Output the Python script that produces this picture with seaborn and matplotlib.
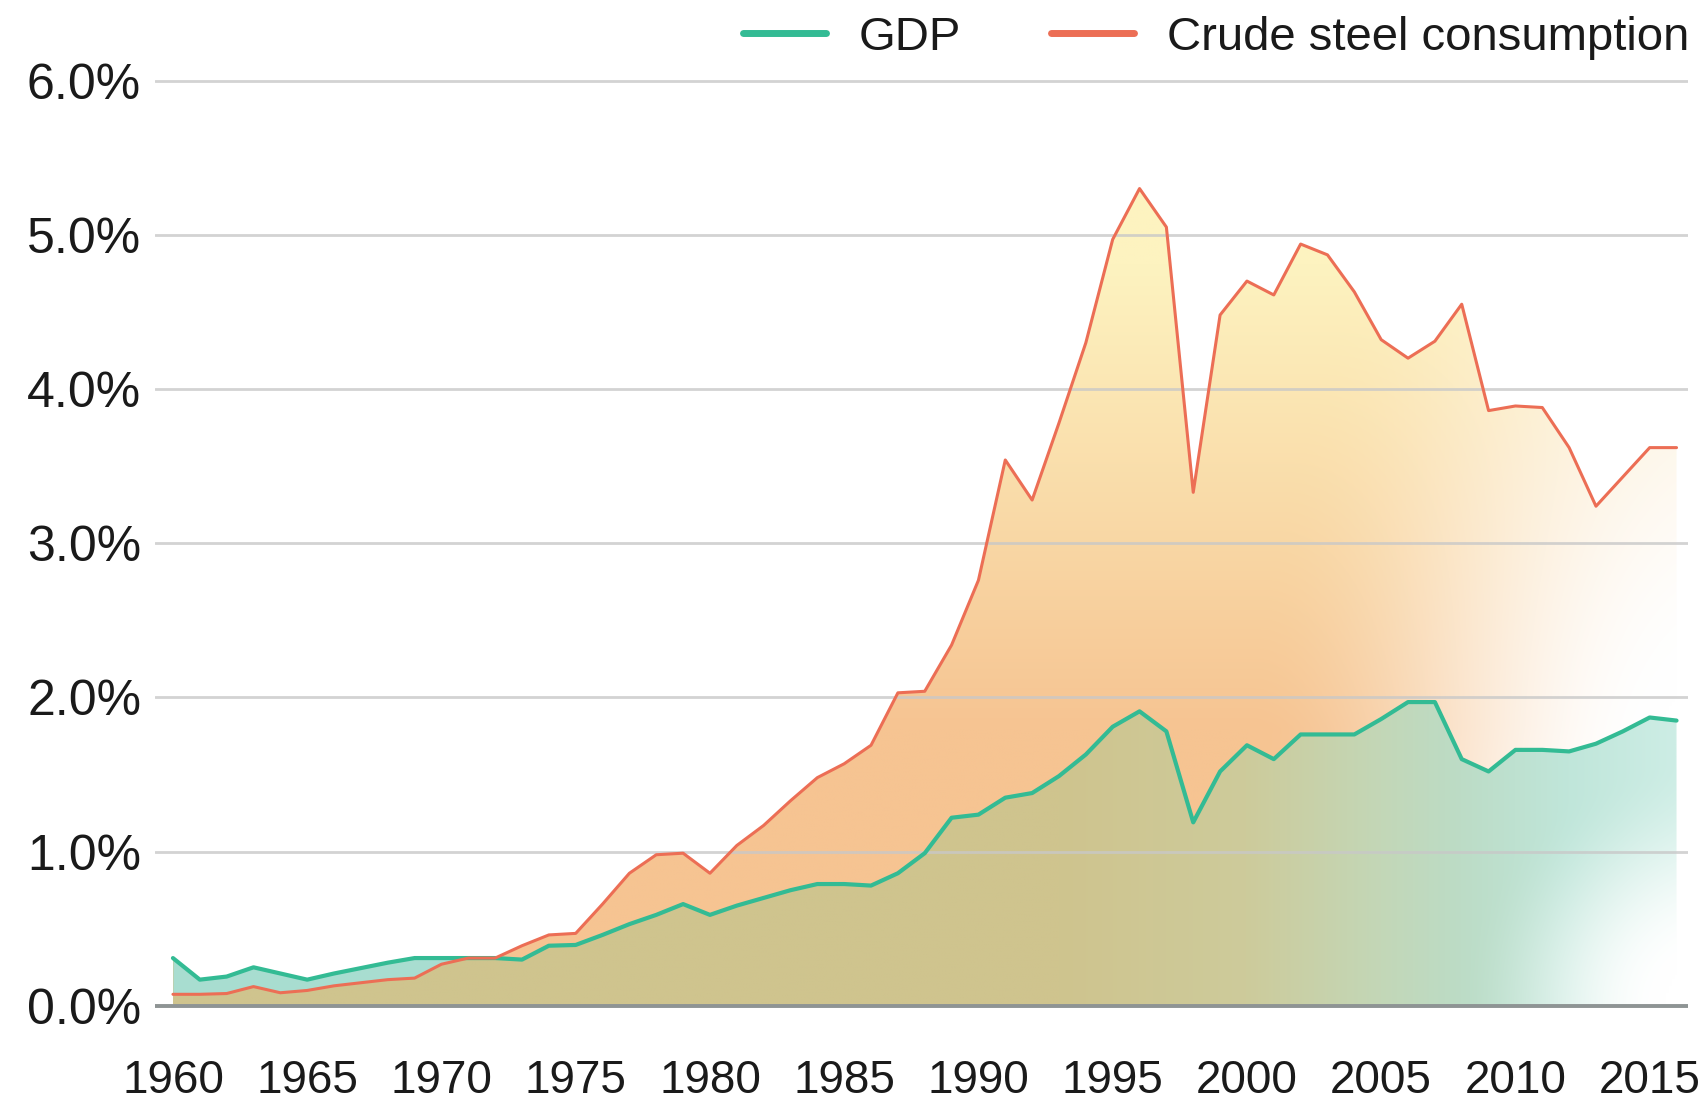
import matplotlib
matplotlib.use("Agg")
import matplotlib.pyplot as plt
from matplotlib.lines import Line2D
import seaborn as sns
import pandas as pd
import numpy as np

years = list(range(1960, 2017))

gdp = [0.31, 0.17, 0.19, 0.25, 0.21, 0.17, 0.21, 0.245, 0.28, 0.31,
       0.31, 0.31, 0.31, 0.30, 0.39, 0.395, 0.46, 0.53, 0.59, 0.66,
       0.59, 0.65, 0.70, 0.75, 0.79, 0.79, 0.78, 0.86, 0.99, 1.22,
       1.24, 1.35, 1.38, 1.49, 1.63, 1.81, 1.91, 1.78, 1.19, 1.52,
       1.69, 1.60, 1.76, 1.76, 1.76, 1.86, 1.97, 1.97, 1.60, 1.52,
       1.66, 1.66, 1.65, 1.70, 1.78, 1.87, 1.85]

steel = [0.075, 0.075, 0.08, 0.125, 0.085, 0.10, 0.13, 0.15, 0.17, 0.18,
         0.27, 0.31, 0.31, 0.39, 0.46, 0.47, 0.66, 0.86, 0.98, 0.99,
         0.86, 1.04, 1.17, 1.33, 1.48, 1.57, 1.69, 2.03, 2.04, 2.34,
         2.76, 3.54, 3.28, 3.78, 4.30, 4.97, 5.30, 5.05, 3.33, 4.48,
         4.70, 4.61, 4.94, 4.87, 4.63, 4.32, 4.20, 4.31, 4.55, 3.86,
         3.89, 3.88, 3.62, 3.24, 3.43, 3.62, 3.62]

series_names = ["GDP", "Crude steel consumption"]
series_colors = ["#33BB94", "#EC6E55"]
x_ticks = list(range(1960, 2016, 5))
y_ticks = [0, 1, 2, 3, 4, 5, 6]
y_labels = [f"{v:.1f}%" for v in y_ticks]

sns.set_theme(style="white")
plt.rcParams["font.family"] = ["Liberation Sans", "DejaVu Sans"]
text_color = "#1a1a1a"

df = pd.DataFrame({
    "year": years * 2,
    "value": gdp + steel,
    "series": [series_names[0]] * len(years) + [series_names[1]] * len(years),
})


def smoothstep(a):
    a = np.clip(a, 0, 1)
    return a * a * (3 - 2 * a)


fig = plt.figure(figsize=(17.01, 11.14), dpi=100)
ax = fig.add_axes([0.0911, 0.0943, 0.9013, 0.8375])

# gradient fields for the two areas
gx = np.linspace(1960, 2016, 500)
gy = np.linspace(0, 6, 400)
X, V = np.meshgrid(gx, gy)

orange = np.array([246, 196, 146]) / 255
yellow = np.array([253, 243, 192]) / 255
t = np.clip((V - 1.8) / 3.0, 0, 1)[..., None]
steel_rgb = orange * (1 - t) + yellow * t
d = np.sqrt(((2018 - X) / 18) ** 2 + ((V - 1.0) / 6) ** 2)
w = smoothstep((1 - d) / 0.8)
steel_rgb = steel_rgb * (1 - w[..., None]) + w[..., None]

kx = [1960, 1993, 2000, 2005, 2008, 2012, 2016]
kc = np.array([[207, 196, 142], [207, 196, 142], [205, 203, 155], [195, 215, 183],
               [188, 220, 198], [192, 230, 218], [205, 237, 229]]) / 255
gdp_rgb = np.stack([np.interp(X, kx, kc[:, i]) for i in range(3)], axis=-1)
dg = np.sqrt(((2017.5 - X) / 9.5) ** 2 + (V / 1.6) ** 2)
wg = smoothstep((1 - dg) / 0.8)
gdp_rgb = gdp_rgb * (1 - wg[..., None]) + wg[..., None]

poly_s = ax.fill_between(years, 0, steel, facecolor="none", lw=0)
poly_g = ax.fill_between(years, 0, gdp, facecolor="none", lw=0)

im_s = ax.imshow(steel_rgb, extent=[1960, 2016, 0, 6], origin="lower",
                 aspect="auto", interpolation="bilinear", zorder=1)
im_s.set_clip_path(poly_s.get_paths()[0], transform=ax.transData)
im_g = ax.imshow(gdp_rgb, extent=[1960, 2016, 0, 6], origin="lower",
                 aspect="auto", interpolation="bilinear", zorder=1.1)
im_g.set_clip_path(poly_g.get_paths()[0], transform=ax.transData)

g_arr = np.array(gdp)
s_arr = np.array(steel)
ax.fill_between(years, steel, gdp, where=g_arr > s_arr, interpolate=True,
                color="#A8DDD0", lw=0, zorder=1.2)

sns.lineplot(data=df, x="year", y="value", hue="series", hue_order=series_names,
             palette=series_colors, ax=ax, legend=False, zorder=3)
ax.lines[0].set_linewidth(3.0)
ax.lines[1].set_linewidth(2.2)

ax.set_xlim(1959.33, 2016.43)
ax.set_ylim(-0.02, 6.03)

for v in y_ticks[1:]:
    ax.axhline(v, color="#C8C8C8", lw=2, alpha=0.8, zorder=2)
ax.axhline(0, color="#8E9494", lw=2.8, zorder=2.6)

for s in ax.spines.values():
    s.set_visible(False)

ax.set_xticks(x_ticks)
ax.set_xticklabels([str(x) for x in x_ticks])
ax.set_yticks(y_ticks)
ax.set_yticklabels(y_labels)
ax.tick_params(axis="x", length=0, pad=36, labelsize=33, labelcolor=text_color)
ax.tick_params(axis="y", length=0, pad=10, labelsize=36, labelcolor=text_color)
ax.set_xlabel("")
ax.set_ylabel("")

handles = [Line2D([], [], color=c, lw=5) for c in series_colors]
fig.legend(handles, series_names, loc="center right", bbox_to_anchor=(0.993, 0.966),
           ncol=2, frameon=False, borderaxespad=0, borderpad=0, handlelength=1.75,
           handletextpad=0.7, columnspacing=1.9, fontsize=34, labelcolor=text_color)

fig.savefig("out.png", dpi=100)
